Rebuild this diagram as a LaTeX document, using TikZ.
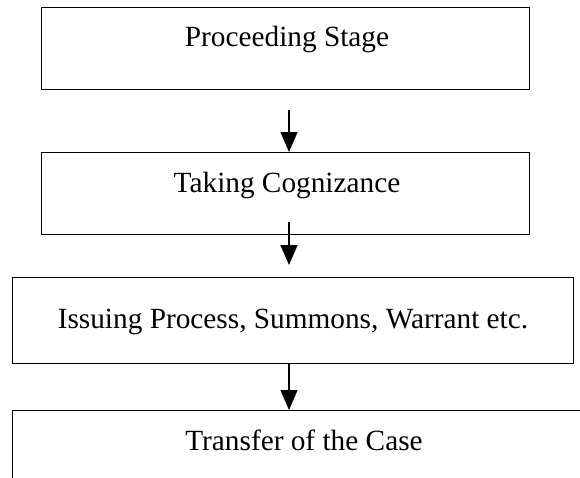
\documentclass[tikz,border=0pt]{standalone}
\usepackage{fontspec}
\setmainfont{Liberation Serif}
\usetikzlibrary{arrows.meta}
\begin{document}
\begin{tikzpicture}[x=1pt,y=-1pt,
  stagebox/.style={draw=black, line width=1.4pt, rectangle, inner sep=0pt, anchor=north west},
  stagetext/.style={inner sep=0pt, anchor=base, font=\fontsize{29.3}{34}\selectfont},
  flow/.style={line width=1.4pt, -{Triangle[length=20pt,width=17pt]}}]
  \useasboundingbox (0,0) rectangle (580,477);
  \clip (0,0) rectangle (580,477);

  % boxes
  \node[stagebox, minimum width=488, minimum height=82] (b1) at (41,7) {};
  \node[stagebox, minimum width=488, minimum height=82] (b2) at (41,152) {};
  \node[stagebox, minimum width=561, minimum height=86] (b3) at (12,277) {};
  \node[stagebox, minimum width=640, minimum height=120] (b4) at (12,410) {};

  % labels
  \node[stagetext] (t1) at (287,46) {Proceeding Stage};
  \node[stagetext] (t2) at (287,192) {Taking Cognizance};
  \node[stagetext] (t3) at (293,328) {Issuing Process, Summons, Warrant etc.};
  \node[stagetext] (t4) at (304,450) {Transfer of the Case};

  % connectors
  \coordinate (a1) at (289,110);
  \coordinate (a2s) at (289,222);
  \coordinate (a2e) at (289,265);
  \draw[flow] (a1) -- (a1 |- b2.north);
  \draw[flow] (a2s) -- (a2e);
  \draw[flow] (b3.south -| a1) -- (b4.north -| a1);
\end{tikzpicture}
\end{document}
